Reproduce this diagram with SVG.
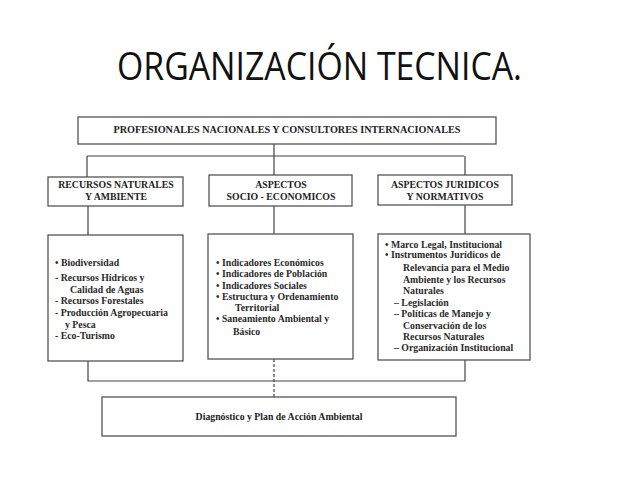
<svg xmlns="http://www.w3.org/2000/svg" width="638" height="479" viewBox="0 0 638 479">
<style>
.box{fill:#fff;stroke:#555;stroke-width:1.3}
.ln{fill:none;stroke:#444;stroke-width:1.2}
.dash{fill:none;stroke:#444;stroke-width:1.2;stroke-dasharray:3 2}
.h{font-family:"Liberation Serif",serif;font-weight:bold;font-size:9.8px;fill:#222;text-anchor:middle}
.t{font-family:"Liberation Serif",serif;font-weight:bold;font-size:9.8px;fill:#2a2a2a}
.title{font-family:"Open Sans","Liberation Sans",sans-serif;font-size:38px;fill:#111;text-anchor:middle}
</style>
<rect width="638" height="479" fill="#fff"/>
<text class="title" x="319.5" y="80" textLength="405" lengthAdjust="spacingAndGlyphs">ORGANIZACIÓN TECNICA.</text>

<g id="connectors">
<path class="ln" d="M274 144V156M87 156H464M87 156V177M274 156V175M465 156V175"/>
<path class="ln" d="M88 206V235M274 206V234M465 205V234"/>
<path class="ln" d="M88 361V381H465V360"/>
<path class="dash" d="M274 359V397"/>
</g>

<g id="top">
<rect class="box" x="78" y="117" width="418" height="27"/>
<text class="h" x="287" y="133" textLength="347" lengthAdjust="spacingAndGlyphs">PROFESIONALES NACIONALES Y CONSULTORES INTERNACIONALES</text>
</g>

<g id="recursos">
<rect class="box" x="48" y="177" width="135" height="29"/>
<text class="h" x="116" y="188">RECURSOS NATURALES</text>
<text class="h" x="116" y="200">Y AMBIENTE</text>
</g>

<g id="socio">
<rect class="box" x="209" y="175" width="143" height="31"/>
<text class="h" x="281" y="188">ASPECTOS</text>
<text class="h" x="281" y="200">SOCIO - ECONOMICOS</text>
</g>

<g id="juridicos">
<rect class="box" x="378" y="175" width="134" height="30"/>
<text class="h" x="445" y="188">ASPECTOS JURIDICOS</text>
<text class="h" x="445" y="200">Y NORMATIVOS</text>
</g>

<g id="lista-recursos">
<rect class="box" x="48" y="235" width="135" height="126"/>
<text class="t" x="55" y="266">•  Biodiversidad</text>
<text class="t" x="55" y="281">-  Recursos Hídricos y</text>
<text class="t" x="70" y="293">Calidad de Aguas</text>
<text class="t" x="55" y="304">-  Recursos Forestales</text>
<text class="t" x="55" y="316">-  Producción Agropecuaria</text>
<text class="t" x="65" y="328">y Pesca</text>
<text class="t" x="55" y="339">-  Eco-Turismo</text>
</g>

<g id="lista-socio">
<rect class="box" x="208" y="234" width="145" height="125"/>
<text class="t" x="216" y="266">•  Indicadores Económicos</text>
<text class="t" x="216" y="277">•  Indicadores de Población</text>
<text class="t" x="216" y="289">•  Indicadores Sociales</text>
<text class="t" x="216" y="300">•  Estructura y Ordenamiento</text>
<text class="t" x="235" y="311">Territorial</text>
<text class="t" x="216" y="322">•  Saneamiento Ambiental y</text>
<text class="t" x="233" y="335">Básico</text>
</g>

<g id="lista-juridicos">
<rect class="box" x="378" y="234" width="152" height="126"/>
<text class="t" x="385" y="248">•  Marco Legal, Institucional</text>
<text class="t" x="385" y="258">•  Instrumentos Jurídicos de</text>
<text class="t" x="403" y="271">Relevancia para el Medio</text>
<text class="t" x="403" y="283">Ambiente y los Recursos</text>
<text class="t" x="403" y="294">Naturales</text>
<text class="t" x="394" y="306">–  Legislación</text>
<text class="t" x="394" y="317">–  Políticas de Manejo y</text>
<text class="t" x="403" y="329">Conservación de los</text>
<text class="t" x="403" y="340">Recursos Naturales</text>
<text class="t" x="394" y="351">–  Organización Institucional</text>
</g>

<g id="diagnostico">
<rect class="box" x="102" y="397" width="354" height="39"/>
<text class="h" x="279" y="420">Diagnóstico y Plan de Acción Ambiental</text>
</g>
</svg>
